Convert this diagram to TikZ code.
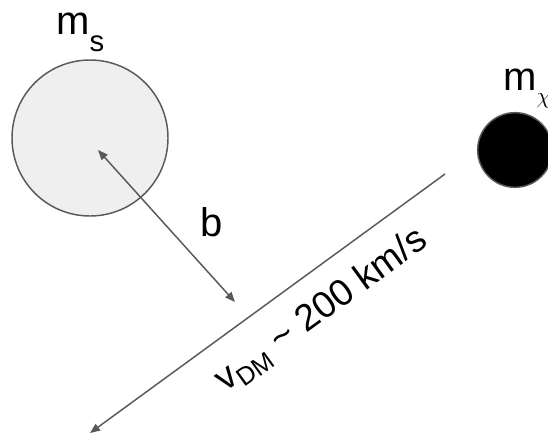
\documentclass[tikz,border=0pt]{standalone}
\usepackage{fontspec}
\setmainfont{Liberation Sans}
\usetikzlibrary{arrows.meta}
\definecolor{linegray}{HTML}{595959}
\definecolor{ballgray}{HTML}{EFEFEF}
\newcommand{\lowsub}[1]{\raisebox{-0.42em}{\fontsize{22}{22}\selectfont #1}}
\newcommand{\dmsub}[1]{\raisebox{-0.2em}{\fontsize{19}{19}\selectfont #1}}
\tikzset{
	ball/.style={draw=linegray,circle,line width=1.1pt,inner sep=0pt},
	arr/.style={draw=linegray,line width=1.1pt,-{Triangle[length=7.5pt,width=6pt]}},
	lbl/.style={inner sep=0pt,font=\fontsize{30}{36}\selectfont}
}

\begin{document}
\begin{tikzpicture}[x=0.75pt,y=-0.75pt]
\useasboundingbox (0,0) rectangle (548,435);
% the two masses
\node[ball,fill=ballgray,minimum size=117pt] (ms) at (90,138) {};
\node[ball,fill=black,minimum size=56pt] (mx) at (515,150) {};
\node[lbl,anchor=base west] (lms) at (56,35) {m\lowsub{s}};
\node[lbl,anchor=base west] (lmx) at (503,90) {m\raisebox{-10pt}{\fontsize{19}{19}\selectfont$\chi$}};
% impact parameter
\coordinate (bin) at (98,150);
\coordinate (bout) at (235,302);
\draw[arr,{Triangle[length=7.5pt,width=6pt]}-{Triangle[length=7.5pt,width=6pt]}] (bin) -- (bout);
\node[lbl,anchor=base west] (lb) at (200,236) {b};
% dark matter velocity
\coordinate (vstart) at (445,174);
\coordinate (vend) at (90,433);
\draw[arr] (vstart) -- (vend);
\node[lbl,font=\fontsize{28}{33}\selectfont,rotate=36,anchor=base west] (lv) at (225,393) {v\dmsub{DM} \textasciitilde{} 200 km/s};
\end{tikzpicture}
\end{document}
